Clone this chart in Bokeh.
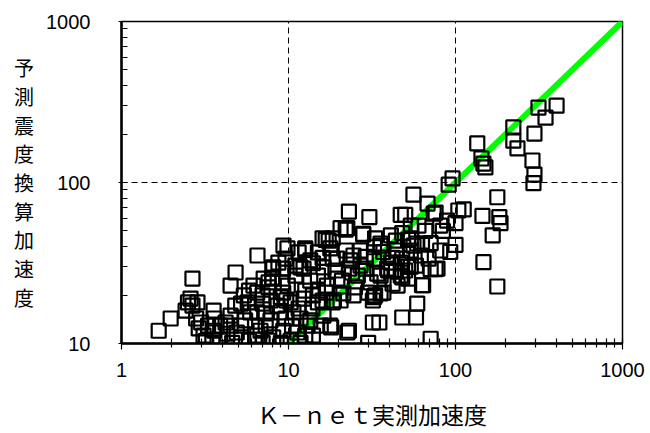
from bokeh.plotting import figure
from bokeh.models import FixedTicker, NumeralTickFormatter, ColumnDataSource
from bokeh.embed import file_html
from bokeh.resources import INLINE

# K-net observed acceleration vs. acceleration converted from predicted intensity
observed = [
    314, 403, 346, 297, 222, 222, 235, 289, 297, 293,
    135, 143, 147, 151, 96, 91, 178, 112, 145, 183,
    186, 167, 100, 74, 68, 100, 93, 147, 178, 76,
    71, 64, 71, 56, 23, 30.5, 47, 50, 76, 22.5,
    28, 12.6, 16.7, 16, 52, 59, 48, 58, 32, 35,
    23, 18, 30, 71, 52, 63,
    1.67, 1.97, 2.66, 2.59, 2.85, 2.42, 3.56, 4.82, 4.5, 6.17,
    6.52, 9.33, 9.86, 12.6, 8.1, 8.0, 7.6,
    16, 18.4, 22, 28, 35.6, 37, 54, 56, 54, 47,
    45, 35.6, 31, 25, 32, 20.5, 18.4, 15, 17, 18.4,
    19.6, 16.2, 14, 11.8, 11, 9.3, 8, 8, 7.6, 9.2,
    9.3, 9, 8.6, 9, 10.3, 10.7, 12.3, 14, 13.9, 11.8,
    13, 11.3, 9.3, 7.3, 6.5, 8.1, 7, 6.5, 5.7, 5.2,
    4.8, 4.5, 4.2, 3.9, 4.3, 3.6, 3.3, 3.0, 2.8, 3.1,
    2.9, 2.66, 2.5, 17.8, 22.5, 16.2, 15.6, 14, 30, 33,
    37, 21.3, 24.5, 19.6, 23, 27, 32.5, 24.5, 39, 42,
    48, 35.6, 59, 63, 44, 47, 32.5, 29, 23.5, 39.5,
    34, 48, 42, 35.6, 18.7, 50, 32.5, 78, 17.4, 20.5,
    3.2, 3.5, 3.9, 4.6, 5.2, 5.8, 7.0, 7.6, 9.0, 10.3,
    11.8, 10.5, 6.3, 5.5, 5.9, 7.3, 7.8, 9.6, 5.2, 3.6,
    4.5, 4.9, 6.8, 12.6, 13.5, 11.5, 9.7, 12.6, 15, 16,
    16.7, 13.5, 15, 11, 9.9, 19.1, 20.9, 26, 29, 24,
    27, 22, 17.8, 15, 41, 44, 52, 58, 62, 69,
    84, 81, 54, 66, 60, 41, 33, 44, 48, 54,
    81, 89, 104, 12.3, 13.5, 9.6, 11.5, 8.7, 7.1, 6.5,
    5.8, 5.4, 7.0, 7.8,
]
predicted = [
    292, 300, 253, 201, 220, 182, 163, 137, 112, 99,
    175, 141, 131, 124, 106, 97, 81, 68, 62, 61,
    56, 47, 56, 64, 74, 41, 37, 32, 22.6, 29,
    29, 23, 42, 84, 66, 61, 63, 63, 65, 52,
    48, 38, 44, 34, 44, 17.7, 14.5, 14.5, 13.5, 13.5,
    12, 12.6, 10.1, 10.7, 30, 23,
    12, 14.3, 25.3, 19, 18, 16, 16, 27.6, 22.9, 22.9,
    35.2, 40.6, 39, 39, 29.7, 25.7, 24,
    45, 45, 51, 47.5, 40.6, 37, 45, 40.6, 30, 26.4,
    22.9, 26.4, 24, 22.3, 18.5, 18.5, 18, 18, 22.9, 33.7,
    33.7, 29.7, 31.5, 29.7, 30.5, 29.2, 29.2, 25.3, 22.3, 24,
    20.7, 19.4, 17.2, 15.6, 18, 15.6, 19, 19.9, 16.5, 14.3,
    12.9, 11.7, 12, 12.9, 11.2, 10.9, 17.7, 15.6, 18, 17.7,
    17.2, 14.9, 13.5, 12.9, 11.5, 14.3, 12.9, 13.5, 14.3, 11.2,
    12.4, 17.2, 18, 12.9, 11.7, 14.9, 12.9, 11.2, 20.7, 19.9,
    20.7, 20.5, 19.9, 25.3, 29.2, 30.5, 33.7, 35.2, 29.2, 34,
    33.7, 41.8, 41.8, 41.8, 37.8, 31.8, 39.6, 34.5, 32.8, 28.4,
    27.2, 25.7, 23.5, 20.5, 18.5, 28.4, 19.4, 29.2, 43.6, 52,
    10.4, 10.1, 10.4, 10.1, 10.9, 10.4, 10.1, 10.4, 10.1, 10.4,
    10.1, 12.9, 12.9, 13.9, 15.6, 15.4, 13.9, 14.3, 12.9, 12,
    12.9, 11.7, 12, 11.2, 13.9, 16.5, 18.5, 21.3, 21.3, 18.5,
    20.7, 24.6, 26.4, 26.4, 22.9, 28.4, 24.6, 26.4, 29.2, 27.6,
    37.8, 37.8, 39, 36.8, 31.8, 28.4, 25.3, 30.5, 35.2, 33.7,
    50, 37.8, 37.8, 50, 54, 47, 45, 43.6, 48.5, 54,
    54, 58, 67, 29.2, 32.8, 33.7, 36.8, 31.8, 25.3, 20.7,
    21.3, 19.9, 19.9, 18.5,
]

# 1:1 reference line
line_x = [1, 1000]
line_y = [1, 1000]

x_major = [1, 10, 100, 1000]
y_major = [10, 100, 1000]
x_minor = [m * d for d in (1, 10, 100) for m in range(2, 10)]
y_minor = [m * d for d in (10, 100) for m in range(2, 10)]

x_title = "Ｋ－ｎｅｔ実測加速度"
y_title = "予測震度換算加速度"

p = figure(
    width=650, height=433,
    x_axis_type="log", y_axis_type="log",
    x_range=(1, 1000), y_range=(10, 1000),
    output_backend="svg", toolbar_location=None,
    min_border_left=121, min_border_right=28,
    min_border_top=21, min_border_bottom=90,
)
p.background_fill_color = "white"
p.border_fill_color = "white"
p.outline_line_color = "black"
p.outline_line_width = 1.5

p.line(line_x, line_y, line_color="#00ff00", line_width=6)

src = ColumnDataSource(dict(x=observed, y=predicted))
p.scatter("x", "y", source=src, marker="square", size=14,
          fill_color=None, line_color="black", line_width=2.2)

# axes
p.xaxis.ticker = FixedTicker(ticks=x_major, minor_ticks=x_minor)
p.yaxis.ticker = FixedTicker(ticks=y_major, minor_ticks=y_minor)
for ax in (p.xaxis, p.yaxis):
    ax.formatter = NumeralTickFormatter(format="0")
    ax.axis_line_width = 2.5
    ax.axis_line_color = "black"
    ax.major_tick_line_color = "black"
    ax.minor_tick_line_color = "black"
    ax.major_tick_line_width = 1.2
    ax.minor_tick_line_width = 1.2
    ax.major_label_text_font = "Liberation Sans"
    ax.major_label_text_font_size = "20px"
    ax.major_label_text_color = "black"
    ax.axis_label_text_font = "Noto Sans CJK JP"
    ax.axis_label_text_font_style = "normal"
    ax.axis_label_text_color = "black"

p.xaxis.major_tick_in = 5
p.xaxis.major_tick_out = 6
p.xaxis.minor_tick_in = 5
p.xaxis.minor_tick_out = 4
p.xaxis.major_label_standoff = 13
p.xaxis.major_label_text_align = "right"
p.xaxis.axis_label = x_title
p.xaxis.axis_label_text_font_size = "23px"
p.xaxis.axis_label_standoff = 17

p.yaxis.major_tick_in = 6
p.yaxis.major_tick_out = 3
p.yaxis.minor_tick_in = 6
p.yaxis.minor_tick_out = 0
p.yaxis.major_label_standoff = 28
p.yaxis.axis_label = "\n".join(y_title)
p.yaxis.axis_label_orientation = "horizontal"
p.yaxis.axis_label_text_font_size = "20px"
p.yaxis.axis_label_text_line_height = 0.99
p.yaxis.axis_label_standoff = 9

# dashed grid
for g in (p.xgrid, p.ygrid):
    g.grid_line_color = "black"
    g.grid_line_dash = "6 4"
    g.grid_line_width = 1
p.xgrid.minor_grid_line_color = None
p.ygrid.minor_grid_line_color = None

open("out.html", "w").write(file_html(p, INLINE))
